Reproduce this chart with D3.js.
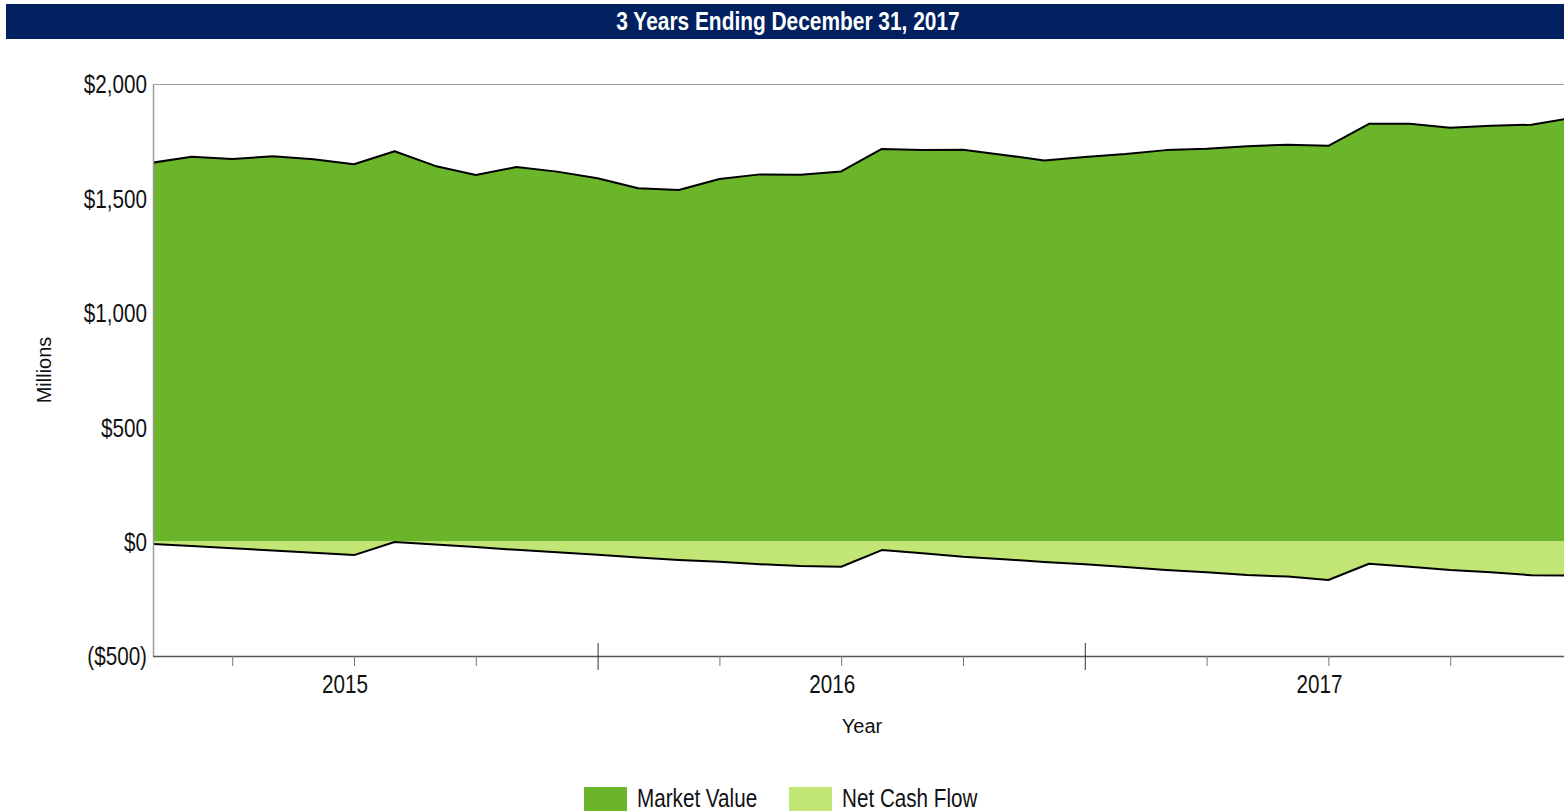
<!DOCTYPE html>
<html>
<head>
<meta charset="utf-8">
<script src="https://cdn.jsdelivr.net/npm/d3@7"></script>
<style>
  html, body { margin: 0; padding: 0; background: #ffffff; }
  svg { display: block; }
  text { font-family: "Liberation Sans", Arial, sans-serif; }
</style>
</head>
<body>
<svg id="chart" width="1564" height="812"></svg>
<script>
// ---------------- DATA ----------------
const titleText = "3 Years Ending December 31, 2017";
const months = [
  "Jan 2015","Feb 2015","Mar 2015","Apr 2015","May 2015","Jun 2015","Jul 2015","Aug 2015","Sep 2015","Oct 2015","Nov 2015","Dec 2015",
  "Jan 2016","Feb 2016","Mar 2016","Apr 2016","May 2016","Jun 2016","Jul 2016","Aug 2016","Sep 2016","Oct 2016","Nov 2016","Dec 2016",
  "Jan 2017","Feb 2017","Mar 2017","Apr 2017","May 2017","Jun 2017","Jul 2017","Aug 2017","Sep 2017","Oct 2017","Nov 2017","Dec 2017"
];
// Millions of dollars
const marketValue = [
  1655, 1682, 1672, 1684, 1671, 1649, 1706, 1642, 1602, 1637, 1617, 1588,
  1544, 1537, 1585, 1605, 1603, 1618, 1716, 1711, 1713, 1690, 1666, 1681,
  1694, 1711, 1717, 1728, 1735, 1730, 1826, 1826, 1809, 1818, 1822, 1852
];
const netCashFlow = [
  -10, -19, -29, -39, -49, -59, -2, -13, -24, -36, -47, -58,
  -70, -80, -88, -99, -107, -110, -37, -51, -66, -77, -89, -99,
  -111, -124, -134, -146, -153, -168, -97, -110, -124, -134, -147, -149
];
const yTicks = [-500, 0, 500, 1000, 1500, 2000];
const yTickLabels = ["($500)", "$0", "$500", "$1,000", "$1,500", "$2,000"];
const quarterEnds = ["Mar", "Jun", "Sep", "Dec"];
const yearLabelMonth = "Jun";
const yearBoundaryMonth = "Dec";
const seriesNames = ["Market Value", "Net Cash Flow"];
const seriesColors = ["#6BB52A", "#C2E675"];

// ---------------- LAYOUT ----------------
const svg = d3.select("#chart");
const W = 1564, H = 812;
const plot = { left: 153, right: 1564, top: 84, bottom: 656 };
const NARROW = 0.82; // horizontal condensing to mimic a narrow face
const FS = 25.2;

function narrowText(parent, x, y, str, size, anchor, opts = {}) {
  const t = parent.append("text")
    .attr("transform", `translate(${x},${y}) scale(${NARROW},1)`)
    .attr("text-anchor", anchor || "start")
    .attr("font-size", size)
    .attr("fill", opts.fill || "#111")
    .text(str);
  if (opts.bold) t.attr("font-weight", "bold");
  return t;
}

// title bar
svg.append("rect").attr("x", 6).attr("y", 4).attr("width", W - 6).attr("height", 35)
  .attr("fill", "#002060");
narrowText(svg, 788, 30, titleText, 25.5, "middle", { fill: "#ffffff", bold: true });

// scales
const x = d3.scalePoint().domain(months).range([151, 151 + 35 * 40.6]);
const y = d3.scaleLinear().domain([-500, 2000]).range([plot.bottom, plot.top]);

// clip
svg.append("defs").append("clipPath").attr("id", "clip")
  .append("rect").attr("x", plot.left).attr("y", plot.top)
  .attr("width", plot.right - plot.left).attr("height", plot.bottom - plot.top);

const g = svg.append("g").attr("clip-path", "url(#clip)");

const area = d3.area().x((d, i) => x(months[i])).y0(y(0)).y1(d => y(d));
const line = d3.line().x((d, i) => x(months[i])).y(d => y(d));

g.append("path").datum(marketValue).attr("d", area).attr("fill", seriesColors[0]);
g.append("path").datum(netCashFlow).attr("d", area).attr("fill", seriesColors[1]);
g.append("path").datum(marketValue).attr("d", line).attr("fill", "none")
  .attr("stroke", "#000").attr("stroke-width", 2).attr("stroke-linejoin", "round");
g.append("path").datum(netCashFlow).attr("d", line).attr("fill", "none")
  .attr("stroke", "#000").attr("stroke-width", 2).attr("stroke-linejoin", "round");

// top frame line
svg.append("line").attr("x1", plot.left).attr("x2", plot.right).attr("y1", plot.top + 0.5).attr("y2", plot.top + 0.5)
  .attr("stroke", "#a0a0a0").attr("stroke-width", 1);

// y axis
const yAxis = d3.axisLeft(y).tickValues(yTicks).tickSize(0).tickPadding(0)
  .tickFormat((d, i) => yTickLabels[i]);
const yg = svg.append("g").attr("transform", `translate(${plot.left},0)`).call(yAxis);
yg.select(".domain").attr("stroke", "#9a9a9a").attr("stroke-width", 1.5);
yg.selectAll("text")
  .attr("font-size", FS).attr("fill", "#111")
  .attr("x", -6 / NARROW).attr("dy", "0.35em")
  .attr("transform", `scale(${NARROW},1)`);

// x axis
const tickMonths = months.filter(m => quarterEnds.includes(m.slice(0, 3)));
const xAxis = d3.axisBottom(x).tickValues(tickMonths).tickSize(10).tickFormat("");
const xg = svg.append("g").attr("transform", `translate(0,${plot.bottom})`).call(xAxis);
xg.select(".domain").attr("d", `M${plot.left},0.5H${plot.right}`).attr("stroke", "#555").attr("stroke-width", 1.5);
xg.selectAll(".tick line").attr("stroke", "#777");
xg.selectAll(".tick").filter(d => d.startsWith(yearBoundaryMonth)).select("line")
  .attr("y1", -13).attr("y2", 14).attr("stroke", "#333");

// year labels
const yearMonths = months.filter(m => m.startsWith(yearLabelMonth));
const yl = svg.append("g");
yearMonths.forEach(m => narrowText(yl, x(m) - 9, 693, m.slice(4), FS, "middle"));

// axis titles
svg.append("text").attr("font-size", 20).attr("fill", "#111")
  .attr("text-anchor", "middle").attr("x", 862).attr("y", 733).text("Year");
svg.append("text").attr("font-size", 20).attr("fill", "#111")
  .attr("text-anchor", "middle")
  .attr("transform", "translate(51,370) rotate(-90)").text("Millions");

// legend
const legendX = [584, 789];
seriesNames.forEach((name, i) => {
  const lg = svg.append("g").attr("transform", `translate(${legendX[i]},787)`);
  lg.append("rect").attr("width", 43).attr("height", 24).attr("fill", seriesColors[i]);
  narrowText(lg, 53, 19.5, name, FS, "start");
});
</script>
</body>
</html>
